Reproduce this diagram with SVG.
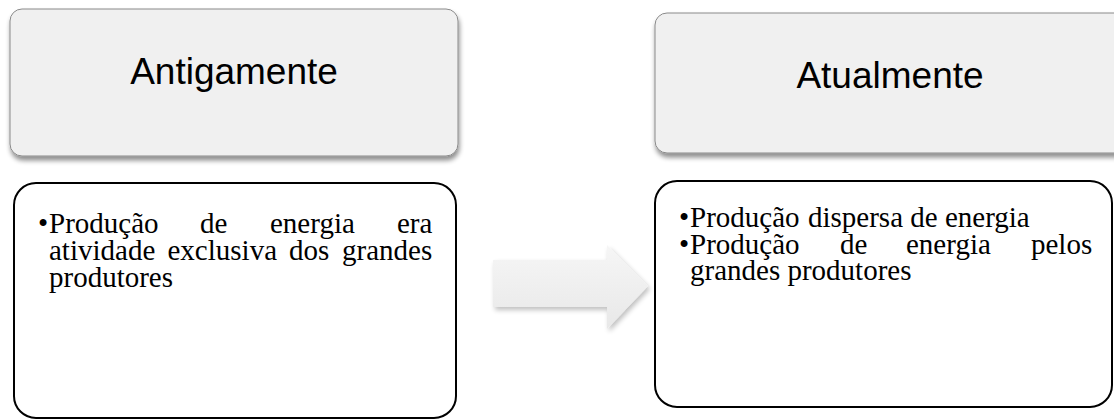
<svg xmlns="http://www.w3.org/2000/svg" width="1114" height="419" viewBox="0 0 1114 419">
  <defs>
    <filter id="shadow" x="-10%" y="-10%" width="120%" height="130%">
      <feGaussianBlur in="SourceAlpha" stdDeviation="2.5"/>
      <feOffset dx="1" dy="4" result="b"/>
      <feComponentTransfer><feFuncA type="linear" slope="0.45"/></feComponentTransfer>
      <feMerge><feMergeNode/><feMergeNode in="SourceGraphic"/></feMerge>
    </filter>
    <filter id="softShadow" x="-10%" y="-10%" width="125%" height="130%">
      <feGaussianBlur in="SourceAlpha" stdDeviation="2.5"/>
      <feOffset dx="2" dy="3" result="b"/>
      <feComponentTransfer><feFuncA type="linear" slope="0.25"/></feComponentTransfer>
      <feMerge><feMergeNode/><feMergeNode in="SourceGraphic"/></feMerge>
    </filter>
    <linearGradient id="arrowGrad" x1="0" y1="0" x2="0" y2="1">
      <stop offset="0" stop-color="#f6f6f6"/>
      <stop offset="1" stop-color="#e8e8e8"/>
    </linearGradient>
  </defs>
  <style>
    .head { fill: #f0f0f0; stroke: #8a8a8a; stroke-width: 1; }
    .body { fill: #ffffff; stroke: #000000; stroke-width: 2; }
    .title { font-family: "Liberation Sans", Arial, sans-serif; font-size: 37px; fill: #000000; text-anchor: middle; }
    .txt { font-family: "Liberation Serif", "Times New Roman", serif; font-size: 29px; fill: #000000; }
  </style>
  <rect width="1114" height="419" fill="#ffffff"/>

  <g id="antigamente-header">
    <rect class="head" x="10" y="9" width="448" height="147" rx="12" ry="12" filter="url(#shadow)"/>
    <text class="title" x="234" y="84">Antigamente</text>
  </g>

  <g id="atualmente-header">
    <rect class="head" x="655" y="13" width="475" height="140" rx="12" ry="12" filter="url(#shadow)"/>
    <text class="title" x="890" y="88">Atualmente</text>
  </g>

  <g id="antigamente-body">
    <rect class="body" x="14" y="183" width="442" height="235" rx="22" ry="22"/>
    <text class="txt" y="233"><tspan x="38">•</tspan><tspan x="49">Produção</tspan><tspan x="200">de</tspan><tspan x="270">energia</tspan><tspan x="397">era</tspan></text>
    <text class="txt" y="260"><tspan x="49">atividade</tspan><tspan x="167.5">exclusiva</tspan><tspan x="289">dos</tspan><tspan x="342">grandes</tspan></text>
    <text class="txt" x="49" y="287">produtores</text>
  </g>

  <g id="atualmente-body">
    <rect class="body" x="655" y="181" width="457" height="226" rx="22" ry="22"/>
    <text class="txt" y="227"><tspan x="679">•</tspan><tspan x="690">Produção</tspan><tspan x="808">dispersa de energia</tspan></text>
    <text class="txt" y="253.5"><tspan x="679">•</tspan><tspan x="690">Produção</tspan><tspan x="840">de</tspan><tspan x="906">energia</tspan><tspan x="1031">pelos</tspan></text>
    <text class="txt" x="690" y="280">grandes produtores</text>
  </g>

  <g id="connectors">
    <polygon points="493,260 607,260 607,245 648,286 607,329 607,307 493,307" fill="url(#arrowGrad)" filter="url(#softShadow)"/>
  </g>
</svg>
